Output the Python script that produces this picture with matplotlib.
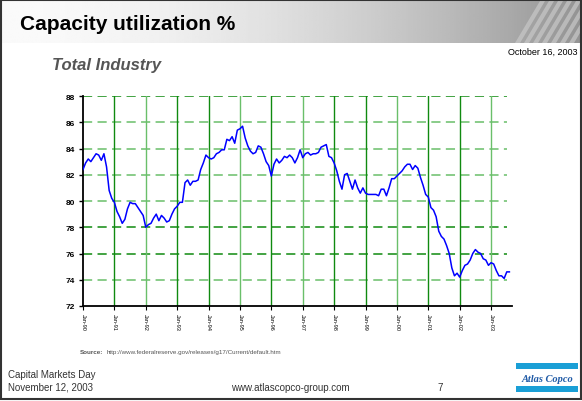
import numpy as np
import matplotlib.pyplot as plt
from matplotlib.patches import Rectangle, Polygon

plt.rcParams['font.family'] = ['Liberation Sans', 'DejaVu Sans']

# monthly capacity utilization, Jan-90 .. Aug-03
cu_1990 = [82.4, 82.9, 83.2, 83.0, 83.3, 83.6, 83.5, 83.1, 83.6, 82.6, 80.8, 80.2]
cu_1991 = [79.9, 79.2, 78.8, 78.3, 78.6, 79.4, 79.9, 79.8, 79.8, 79.5, 79.2, 78.9]
cu_1992 = [78.0, 78.2, 78.3, 78.7, 79.0, 78.5, 78.9, 78.7, 78.4, 78.5, 79.0, 79.4]
cu_1993 = [79.6, 79.9, 79.9, 81.4, 81.6, 81.2, 81.5, 81.5, 81.6, 82.4, 82.9, 83.5]
cu_1994 = [83.3, 83.2, 83.3, 83.6, 83.7, 83.9, 83.9, 84.7, 84.6, 84.9, 84.4, 85.4]
cu_1995 = [85.5, 85.7, 84.8, 84.2, 83.8, 83.6, 83.7, 84.2, 84.1, 83.6, 83.0, 82.7]
cu_1996 = [81.9, 82.8, 83.2, 82.9, 83.1, 83.4, 83.3, 83.5, 83.3, 82.9, 83.3, 83.9]
cu_1997 = [83.3, 83.6, 83.7, 83.5, 83.6, 83.6, 83.7, 84.1, 84.2, 84.3, 83.4, 83.3]
cu_1998 = [82.9, 82.3, 81.5, 80.9, 82.0, 82.1, 81.5, 80.9, 81.6, 81.0, 80.6, 81.0]
cu_1999 = [80.6, 80.5, 80.5, 80.5, 80.5, 80.4, 80.9, 80.9, 80.4, 81.0, 81.7, 81.7]
cu_2000 = [81.9, 82.1, 82.3, 82.6, 82.8, 82.8, 82.4, 82.7, 82.5, 81.8, 81.2, 80.5]
cu_2001 = [80.3, 79.5, 79.3, 78.8, 77.7, 77.3, 77.1, 76.6, 76.0, 74.9, 74.3, 74.5]
cu_2002 = [74.2, 74.7, 75.1, 75.2, 75.5, 76.0, 76.3, 76.1, 76.0, 75.6, 75.5, 75.1]
cu_2003 = [75.3, 75.2, 74.7, 74.3, 74.3, 74.1, 74.6, 74.6]

values = (cu_1990 + cu_1991 + cu_1992 + cu_1993 + cu_1994 + cu_1995 + cu_1996
          + cu_1997 + cu_1998 + cu_1999 + cu_2000 + cu_2001 + cu_2002 + cu_2003)
months = np.arange(len(values))

year_labels = ["Jan-90", "Jan-91", "Jan-92", "Jan-93", "Jan-94", "Jan-95", "Jan-96",
               "Jan-97", "Jan-98", "Jan-99", "Jan-00", "Jan-01", "Jan-02", "Jan-03"]
y_ticks = [72, 74, 76, 78, 80, 82, 84, 86, 88]

W, H = 582, 402
fig = plt.figure(figsize=(W / 100, H / 100), dpi=100)

# slide background / title bar
bg = fig.add_axes([0, 0, 1, 1])
bg.set_xlim(0, W)
bg.set_ylim(H, 0)
bg.axis('off')
grad = np.linspace(0, 1, 300) ** 1.8
grad = 0.98 - 0.40 * grad
bg.imshow(np.tile(grad, (2, 1)), cmap='gray', vmin=0, vmax=1,
          extent=[2, W - 2, 44, 2], aspect='auto', zorder=0)
# gear hint in the corner
for i in range(7):
    x0 = 515 + i * 9
    bg.add_patch(Polygon([[x0, 44], [x0 + 5, 44], [x0 + 30, 2], [x0 + 25, 2]],
                         closed=True, color='#c8c8c8', alpha=0.7, lw=0, zorder=1))
bg.add_patch(Rectangle((1, 1), W - 2, H - 3, fill=False, ec='#333333', lw=1.5, zorder=3))

bg.text(20, 30, "Capacity utilization %", fontsize=15, fontweight='bold', color='black')
bg.text(578, 55, "October 16, 2003", fontsize=6.5, ha='right', color='black')
bg.text(52, 70, "Total Industry", fontsize=12, fontweight='bold', style='italic', color='#555555')
src = bg.text(80, 354, "Source:", fontsize=4.5, fontweight='bold', color='#555555')
bg.annotate("http://www.federalreserve.gov/releases/g17/Current/default.htm",
            xy=(1, 0), xycoords=src, xytext=(2, 0), textcoords='offset points',
            va='bottom', fontsize=4.5, color='#555555')
bg.text(8, 378, "Capital Markets Day", fontsize=7, color='#333333')
bg.text(8, 391, "November 12, 2003", fontsize=7, color='#333333')
bg.text(290, 391, "www.atlascopco-group.com", fontsize=7, ha='center', color='#333333')
bg.text(440, 391, "7", fontsize=7, ha='center', color='#333333')
# Atlas Copco logo
bg.add_patch(Rectangle((516, 364), 62, 6, color='#1a9fd6', lw=0))
bg.add_patch(Rectangle((516, 387), 62, 6, color='#1a9fd6', lw=0))
bg.text(547, 382.5, "Atlas Copco", fontsize=7.5, ha='center', style='italic',
        fontweight='bold', family=['Liberation Serif'], color='#1f5aa6')

# chart
ax = fig.add_axes([83 / W, 1 - 307 / H, (512 - 83) / W, (307 - 97) / H])
ax.set_xlim(0, 164)
ax.set_ylim(72, 88)

dark_g, light_g = '#108a10', '#6abf6a'
h_cols = [None, light_g, dark_g, dark_g, light_g, light_g, light_g, light_g, dark_g]
for yv, c in zip(y_ticks, h_cols):
    if c is None:
        continue
    ax.plot([0, 162], [yv, yv], color=c, lw=1.1, dashes=(6, 3.5), zorder=1)
v_cols = [dark_g, light_g, dark_g, dark_g, light_g, dark_g, light_g,
          dark_g, dark_g, light_g, dark_g, dark_g, light_g]
for i, c in enumerate(v_cols, start=1):
    ax.axvline(12 * i, color=c, lw=1.0, zorder=1)

ax.plot(months, values, color='#0000ff', lw=1.1, zorder=3)

ax.set_yticks(y_ticks)
ax.set_yticklabels([str(v) for v in y_ticks], fontsize=6, fontweight='bold')
ax.set_xticks(np.arange(0, 12 * len(year_labels), 12))
ax.set_xticklabels(year_labels, rotation=270, fontsize=4)
ax.tick_params(axis='y', length=3, width=1, pad=3)
ax.tick_params(axis='x', length=3, width=0.8, pad=2)
for s in ['top', 'right']:
    ax.spines[s].set_visible(False)
ax.spines['left'].set_linewidth(1.3)
ax.spines['bottom'].set_linewidth(1.3)
ax.set_facecolor('none')

fig.savefig('out.png', dpi=100)
